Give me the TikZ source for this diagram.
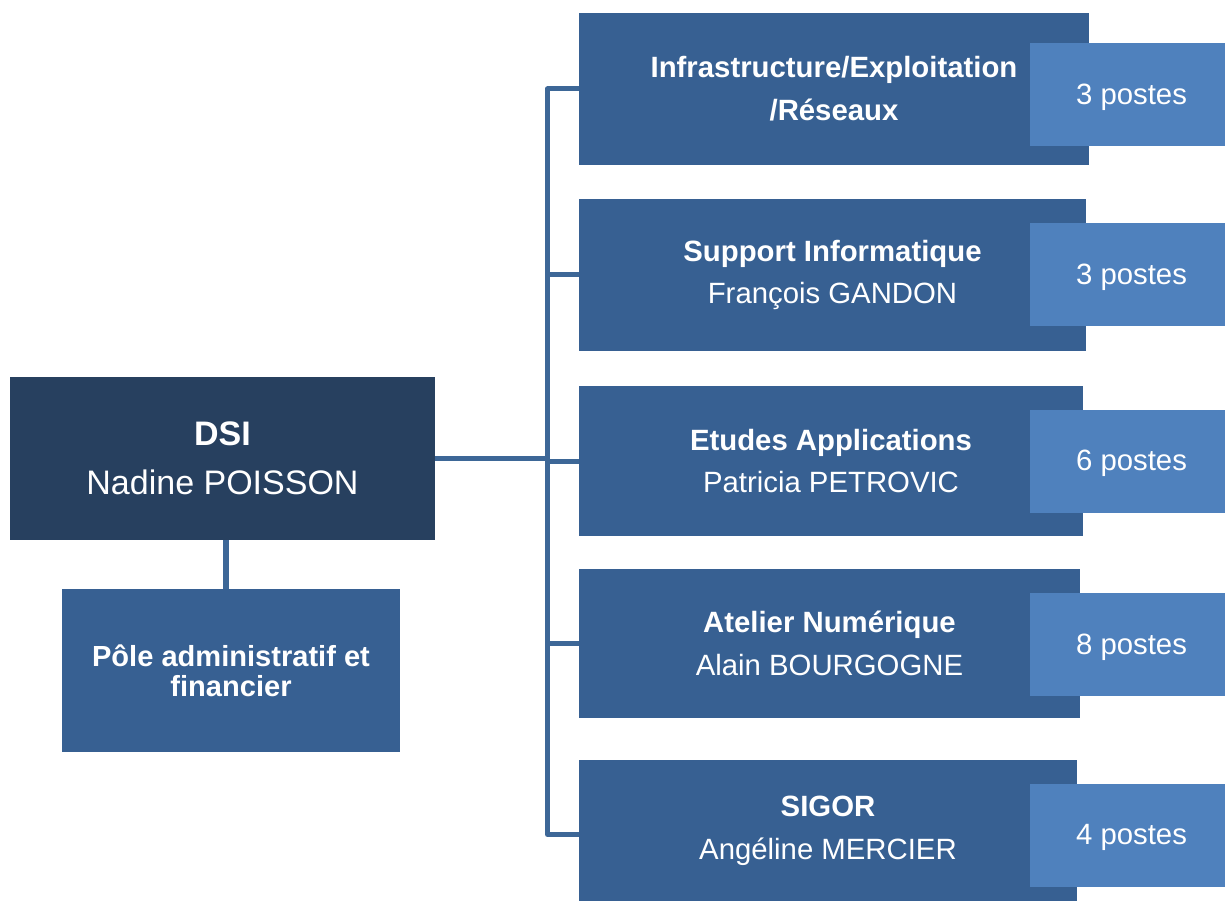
\documentclass[tikz,border=0pt]{standalone}
\usepackage{fontspec}
\setmainfont{Liberation Sans}
\definecolor{dsicol}{HTML}{27405F}
\definecolor{boxcol}{HTML}{376092}
\definecolor{postcol}{HTML}{4F81BD}
\definecolor{linecol}{HTML}{3D6797}
\newcommand{\postlabel}[1]{\hspace{6pt}\raisebox{-2pt}[\height][\depth]{#1}}
\begin{document}
\begin{tikzpicture}[x=0.75pt,y=-0.75pt,
  unit/.style={fill=boxcol,text=white,inner sep=0pt,align=center,
    font=\fontsize{22}{32}\selectfont},
  postbox/.style={fill=postcol,text=white,inner sep=0pt,minimum width=146.25pt,
    minimum height=77.25pt,font=\fontsize{22}{26}\selectfont},
  conn/.style={draw=linecol,line width=3.75pt,line join=round}]
\useasboundingbox (0,0) rectangle (1225,902);
% main boxes
\node[unit,fill=dsicol,minimum width=318.75pt,minimum height=122.25pt,
  font=\fontsize{25.5}{37}\selectfont] (dsi) at (222.5,458.5)
  {\textbf{DSI}\\Nadine POISSON};
\node[unit,minimum width=253.5pt,minimum height=122.25pt,
  font=\fontsize{21.8}{22.5}\selectfont\bfseries] (pole) at (231,670.5)
  {Pôle administratif et\\financier};
\node[unit,minimum width=382.5pt,minimum height=114pt] (b1) at (834,89)
  {\textbf{Infrastructure/Exploitation}\\\textbf{/Réseaux}};
\node[unit,minimum width=380.25pt,minimum height=114pt] (b2) at (832.5,275)
  {\textbf{Support Informatique}\\François GANDON};
\node[unit,minimum width=378pt,minimum height=112.5pt] (b3) at (831,461)
  {\textbf{Etudes Applications}\\Patricia PETROVIC};
\node[unit,minimum width=375.75pt,minimum height=111.75pt] (b4) at (829.5,643.5)
  {\textbf{Atelier Numérique}\\Alain BOURGOGNE};
\node[unit,minimum width=373.5pt,minimum height=105.75pt] (b5) at (828,830.5)
  {\textbf{SIGOR}\\Angéline MERCIER};
% postes boxes
\node[postbox] (p1) at (1127.5,94.5) {\postlabel{3 postes}};
\node[postbox] (p2) at (1127.5,275) {\postlabel{3 postes}};
\node[postbox] (p3) at (1127.5,461) {\postlabel{6 postes}};
\node[postbox] (p4) at (1127.5,644.5) {\postlabel{8 postes}};
\node[postbox] (p5) at (1127.5,835) {\postlabel{4 postes}};
% connectors
\coordinate (tt) at (547.5,0);
\draw[conn] (b1.west) -| ([yshift=-3pt]tt |- b5.west) -- ([yshift=-3pt]b5.west);
\draw[conn] (b2.west) -- (tt |- b2.west);
\draw[conn] (b3.west) -- (tt |- b3.west);
\draw[conn] (b4.west) -- (tt |- b4.west);
\draw[conn] (dsi.east) -- (tt |- dsi.east);
\draw[conn,line width=4.5pt] ([xshift=2.6pt]dsi.south) -- ([xshift=2.6pt]dsi.south |- pole.north);
\end{tikzpicture}
\end{document}
